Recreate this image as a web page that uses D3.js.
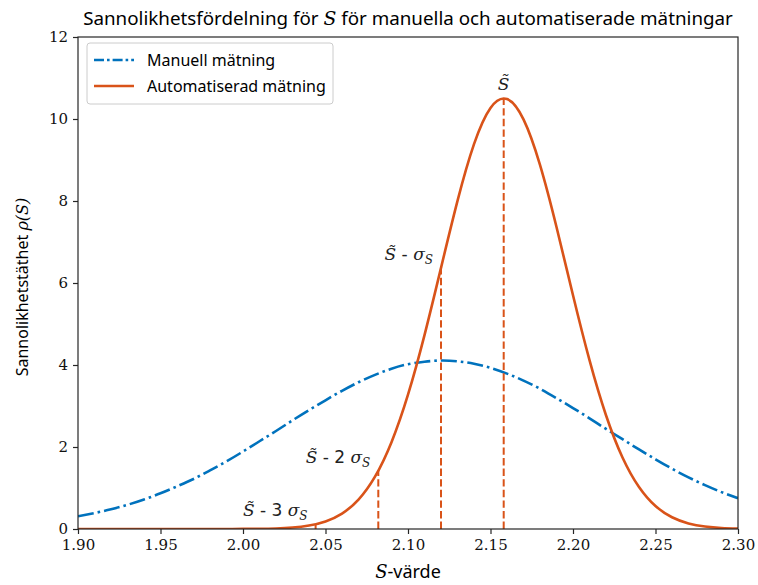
<!DOCTYPE html>
<html>
<head>
<meta charset="utf-8">
<script src="https://cdn.jsdelivr.net/npm/d3@7"></script>
<style>
  body { margin: 0; background: #fff; }
  svg { display: block; }
  .tick text { font-family: "DejaVu Serif", serif; font-size: 15px; }
</style>
</head>
<body>
<script>
// x-grid for both curves (S values)
var sValues = [1.90,1.91,1.92,1.93,1.94,1.95,1.96,1.97,1.98,1.99,
               2.00,2.01,2.02,2.03,2.04,2.05,2.06,2.07,2.08,2.09,
               2.10,2.11,2.12,2.13,2.14,2.15,2.16,2.17,2.18,2.19,
               2.20,2.21,2.22,2.23,2.24,2.25,2.26,2.27,2.28,2.29,2.30];

var manuell = [0.31,0.39,0.48,0.59,0.72,0.87,1.04,1.22,1.43,1.65,
               1.89,2.14,2.39,2.65,2.90,3.14,3.37,3.58,3.76,3.91,
               4.02,4.08,4.11,4.09,4.03,3.93,3.79,3.62,3.42,3.19,
               2.95,2.70,2.44,2.19,1.94,1.70,1.47,1.26,1.07,0.90,0.75];

var automatiserad = [0,0,0,0,0,0,0,0,0,0.001,
               0.002,0.005,0.014,0.036,0.085,0.185,0.377,0.718,1.277,2.118,
               3.275,4.728,6.368,8.003,9.386,10.270,10.486,9.990,8.880,7.365,
               5.700,4.117,2.774,1.744,1.024,0.560,0.286,0.136,0.061,0.025,0.010];

// marker lines: S~ - 3s, S~ - 2s, S~ - s, S~
var markerS = [2.044, 2.082, 2.120, 2.158];
var markerRho = [0.12, 1.42, 6.37, 10.50];
var markerK = ["3", "2", "", null];

var xTicks = [1.90,1.95,2.00,2.05,2.10,2.15,2.20,2.25,2.30];
var yTicks = [0,2,4,6,8,10,12];

var blue = "#0072BD", orange = "#D95319", axisCol = "#262626";
var width = 758, height = 585;
var mLeft = 78, mRight = 738, mTop = 37, mBottom = 529;

var svg = d3.select("body").append("svg")
    .attr("width", width)
    .attr("height", height);

var x = d3.scaleLinear().domain([1.90, 2.30]).range([mLeft, mRight]);
var y = d3.scaleLinear().domain([0, 12]).range([mBottom, mTop]);

svg.append("defs").append("clipPath").attr("id", "clip")
  .append("rect").attr("x", mLeft).attr("y", mTop)
  .attr("width", mRight - mLeft).attr("height", mBottom - mTop);

// curves
var manPts = sValues.map(function (s, i) { return [s, manuell[i]]; });
var autoPts = sValues.map(function (s, i) { return [s, automatiserad[i]]; });

var line = d3.line()
    .x(function (d) { return x(d[0]); })
    .y(function (d) { return y(d[1]); })
    .curve(d3.curveNatural);

var plot = svg.append("g").attr("clip-path", "url(#clip)");

plot.append("path").datum(manPts)
    .attr("d", line)
    .attr("fill", "none")
    .attr("stroke", blue)
    .attr("stroke-width", 2.6)
    .attr("stroke-dasharray", "16,4,2.6,4");

plot.append("path").datum(autoPts)
    .attr("d", line)
    .attr("fill", "none")
    .attr("stroke", orange)
    .attr("stroke-width", 2.6);

// dashed marker lines
plot.selectAll(".marker").data(markerS).enter()
  .append("line")
    .attr("class", "marker")
    .attr("x1", function (d) { return x(d); })
    .attr("x2", function (d) { return x(d); })
    .attr("y1", y(0))
    .attr("y2", function (d, i) { return y(markerRho[i]); })
    .attr("stroke", orange)
    .attr("stroke-width", 2)
    .attr("stroke-dasharray", "7.4,3.2");

// marker labels
var ann = svg.append("g")
    .attr("font-family", "DejaVu Serif, serif")
    .attr("font-size", 17)
    .attr("fill", "#222");

markerS.forEach(function (s, i) {
  var t = ann.append("text");
  if (markerK[i] === null) {
    t.attr("x", x(s)).attr("y", y(markerRho[i]) - 9).attr("text-anchor", "middle");
    t.append("tspan").attr("font-style", "italic").text("S\u0303");
  } else {
    t.attr("x", x(s) - 8).attr("y", y(markerRho[i]) - 8).attr("text-anchor", "end");
    t.append("tspan").attr("font-style", "italic").text("S\u0303");
    t.append("tspan").attr("font-family", "DejaVu Sans, sans-serif")
      .text(markerK[i] === "" ? " - " : " - " + markerK[i] + " ");
    t.append("tspan").attr("font-style", "italic").text("\u03c3");
    t.append("tspan").attr("font-style", "italic").attr("font-size", 12)
      .attr("dy", 4).text("S");
  }
});

// axes
var xAxis = d3.axisBottom(x).tickValues(xTicks).tickFormat(d3.format(".2f"))
    .tickSizeInner(5).tickSizeOuter(0).tickPadding(5);
var yAxis = d3.axisLeft(y).tickValues(yTicks)
    .tickSizeInner(5).tickSizeOuter(0).tickPadding(5);

svg.append("g").attr("transform", "translate(0," + mBottom + ")").call(xAxis)
  .call(function (g) { g.select(".domain").remove(); });
svg.append("g").attr("transform", "translate(" + mLeft + ",0)").call(yAxis)
  .call(function (g) { g.select(".domain").remove(); });

svg.selectAll(".tick line").attr("stroke", axisCol).attr("stroke-width", 1.2);
svg.selectAll(".tick text").attr("fill", "#111");

svg.append("rect")
    .attr("x", mLeft).attr("y", mTop)
    .attr("width", mRight - mLeft).attr("height", mBottom - mTop)
    .attr("fill", "none").attr("stroke", axisCol).attr("stroke-width", 1.2);

// title and labels
var title = svg.append("text")
    .attr("x", (mLeft + mRight) / 2).attr("y", 25)
    .attr("text-anchor", "middle")
    .attr("font-family", "Noto Sans, sans-serif")
    .attr("font-size", 18.8);
title.append("tspan").text("Sannolikhetsfördelning för ");
title.append("tspan").attr("font-family", "DejaVu Serif, serif").attr("font-style", "italic").text("S");
title.append("tspan").text(" för manuella och automatiserade mätningar");

var xl = svg.append("text")
    .attr("x", (mLeft + mRight) / 2).attr("y", 578)
    .attr("text-anchor", "middle")
    .attr("font-family", "Noto Sans, sans-serif")
    .attr("font-size", 18);
xl.append("tspan").attr("font-family", "DejaVu Serif, serif").attr("font-style", "italic").text("S");
xl.append("tspan").text("-värde");

var yl = svg.append("text")
    .attr("transform", "translate(28," + ((mTop + mBottom) / 2 + 4) + ") rotate(-90)")
    .attr("text-anchor", "middle")
    .attr("font-family", "Noto Sans, sans-serif")
    .attr("font-size", 16);
yl.append("tspan").text("Sannolikhetstäthet ");
yl.append("tspan").attr("font-family", "DejaVu Serif, serif").attr("font-style", "italic").text("\u03c1(S)");

// legend
var legendNames = ["Manuell mätning", "Automatiserad mätning"];
var legendColors = [blue, orange];
var legendDash = ["10,3,2.6,3", null];

var lg = svg.append("g");
lg.append("rect")
    .attr("x", 87).attr("y", 43).attr("width", 246).attr("height", 61)
    .attr("rx", 3)
    .attr("fill", "#fff").attr("fill-opacity", 0.8)
    .attr("stroke", "#ccc").attr("stroke-width", 1);

var items = lg.selectAll(".item").data(legendNames).enter()
  .append("g")
    .attr("transform", function (d, i) { return "translate(0," + (60 + i * 26) + ")"; });

items.append("line")
    .attr("x1", 94).attr("x2", 134)
    .attr("stroke", function (d, i) { return legendColors[i]; })
    .attr("stroke-width", 2.6)
    .attr("stroke-dasharray", function (d, i) { return legendDash[i]; });

items.append("text")
    .attr("x", 147).attr("y", 5.5)
    .attr("font-family", "Noto Sans, sans-serif")
    .attr("font-size", 16)
    .text(function (d) { return d; });
</script>
</body>
</html>
